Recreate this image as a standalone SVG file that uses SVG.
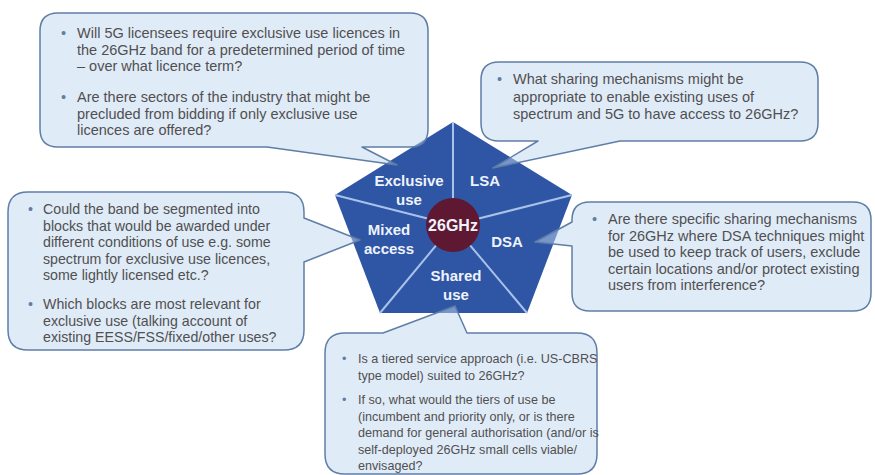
<svg xmlns="http://www.w3.org/2000/svg" width="875" height="475" viewBox="0 0 875 475">
<style>
.bg{fill:#ffffff}
.callout{fill:#c2d8f1;fill-opacity:0.5;stroke:#5f7ea6;stroke-width:1.5;stroke-linejoin:round}
.txt{font-family:"Liberation Sans",Arial,sans-serif;font-size:14.5px;fill:#505050}
.t3{font-size:14.2px}
.t5{font-size:12.6px}
.bul{fill:#5f7ea6}
.pent{fill:#2f55a5}
.div{stroke:#a9c2ea;stroke-width:2;fill:none}
.hub{fill:#5e1832}
.lbl{font-family:"Liberation Sans",Arial,sans-serif;font-size:15px;font-weight:bold;fill:#eef3fb;text-anchor:middle}
.hubl{font-size:16px}
</style>
<rect class="bg" x="0" y="0" width="875" height="475"/>
<g id="pentagon">
<polygon class="pent" points="453,122 572,195 527,313 380,313 335,195"/>
<g class="div">
<line x1="453" y1="225" x2="453" y2="122"/>
<line x1="453" y1="225" x2="572" y2="195"/>
<line x1="453" y1="225" x2="527" y2="313"/>
<line x1="453" y1="225" x2="380" y2="313"/>
<line x1="453" y1="225" x2="335" y2="195"/>
</g>
<text class="lbl" x="409" y="186">Exclusive</text>
<text class="lbl" x="409" y="205">use</text>
<text class="lbl" x="485" y="186">LSA</text>
<text class="lbl" x="389" y="235">Mixed</text>
<text class="lbl" x="389" y="254">access</text>
<text class="lbl" x="507" y="247">DSA</text>
<text class="lbl" x="456" y="281">Shared</text>
<text class="lbl" x="456" y="300">use</text>
</g>
<g id="hub">
<circle class="hub" cx="453" cy="225" r="27"/>
<text class="lbl hubl" x="453" y="231">26GHz</text>
</g>
<g id="callout-exclusive">
<path class="callout" d="M58,13 H410 Q428,13 428,31 V129 Q428,147 410,147 H362 L397,165 L267,147 H58 Q40,147 40,129 V31 Q40,13 58,13 Z"/>
<text class="txt"><tspan class="bul" x="61" y="38">•</tspan><tspan x="77" y="38">Will 5G licensees require exclusive use licences in</tspan><tspan x="77" y="54.5">the 26GHz band for a predetermined period of time</tspan><tspan x="77" y="71">– over what licence term?</tspan><tspan class="bul" x="61" y="102">•</tspan><tspan x="77" y="102">Are there sectors of the industry that might be</tspan><tspan x="77" y="118.5">precluded from bidding if only exclusive use</tspan><tspan x="77" y="135">licences are offered?</tspan></text>
</g>
<g id="callout-lsa">
<path class="callout" d="M499,62 H800 Q818,62 818,80 V123 Q818,141 800,141 H620 L493,168 L538,141 H499 Q481,141 481,123 V80 Q481,62 499,62 Z"/>
<text class="txt"><tspan class="bul" x="497" y="84">•</tspan><tspan x="513" y="84">What sharing mechanisms might be</tspan><tspan x="513" y="101.5">appropriate to enable existing uses of</tspan><tspan x="513" y="119">spectrum and 5G to have access to 26GHz?</tspan></text>
</g>
<g id="callout-mixed">
<path class="callout" d="M28,192 H284 Q304,192 304,212 V218 L360,240 L304,262 V330 Q304,350 284,350 H28 Q8,350 8,330 V212 Q8,192 28,192 Z"/>
<text class="txt t3"><tspan class="bul" x="28" y="214">•</tspan><tspan x="43" y="214">Could the band be segmented into</tspan><tspan x="43" y="230.5">blocks that would be awarded under</tspan><tspan x="43" y="247">different conditions of use e.g. some</tspan><tspan x="43" y="263.5">spectrum for exclusive use licences,</tspan><tspan x="43" y="280">some lightly licensed etc.?</tspan><tspan class="bul" x="28" y="309">•</tspan><tspan x="43" y="309">Which blocks are most relevant for</tspan><tspan x="43" y="325.5">exclusive use (talking account of</tspan><tspan x="43" y="342">existing EESS/FSS/fixed/other uses?</tspan></text>
</g>
<g id="callout-dsa">
<path class="callout" d="M590,202 H853 Q871,202 871,220 V293 Q871,311 853,311 H590 Q572,311 572,293 V246 L535,242 L572,222 V220 Q572,202 590,202 Z"/>
<text class="txt"><tspan class="bul" x="592" y="224">•</tspan><tspan x="608" y="224">Are there specific sharing mechanisms</tspan><tspan x="608" y="240.5">for 26GHz where DSA techniques might</tspan><tspan x="608" y="257">be used to keep track of users, exclude</tspan><tspan x="608" y="273.5">certain locations and/or protect existing</tspan><tspan x="608" y="290">users from interference?</tspan></text>
</g>
<g id="callout-shared">
<path class="callout" d="M345,333 H383 L455,306 L467,333 H577 Q597,333 597,353 V454 Q597,474 577,474 H345 Q325,474 325,454 V353 Q325,333 345,333 Z"/>
<text class="txt t5"><tspan class="bul" x="342" y="363">•</tspan><tspan x="358" y="363">Is a tiered service approach (i.e. US-CBRS</tspan><tspan x="358" y="379.5">type model) suited to 26GHz?</tspan><tspan class="bul" x="342" y="404">•</tspan><tspan x="358" y="404">If so, what would the tiers of use be</tspan><tspan x="358" y="420.5">(incumbent and priority only, or is there</tspan><tspan x="358" y="437">demand for general authorisation (and/or is</tspan><tspan x="358" y="453.5">self-deployed 26GHz small cells viable/</tspan><tspan x="358" y="470">envisaged?</tspan></text>
</g>
</svg>
